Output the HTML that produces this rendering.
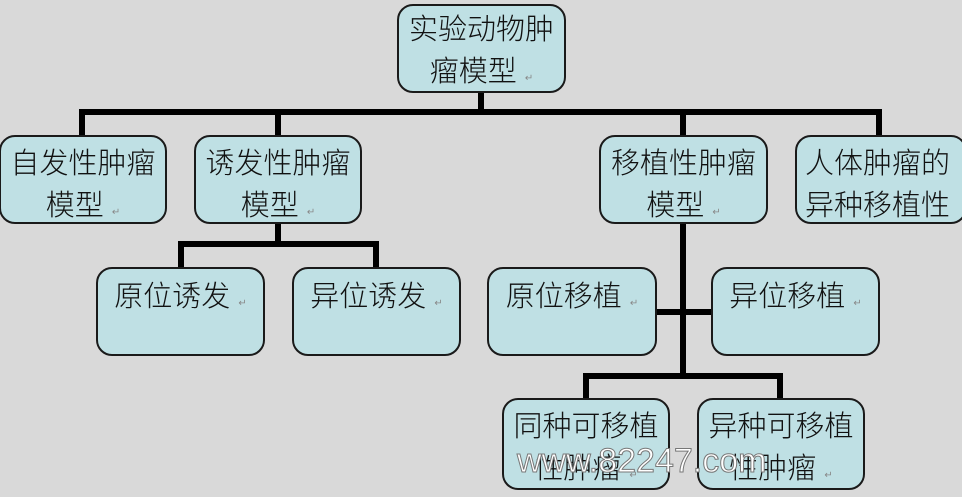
<!DOCTYPE html>
<html><head><meta charset="utf-8"><style>
html,body{margin:0;padding:0;}
body{width:962px;height:487px;background:#d9d9d9;position:relative;overflow:hidden;font-family:"Liberation Sans","Noto Sans CJK SC","WenQuanYi Zen Hei",sans-serif;}
.b{position:absolute;box-sizing:border-box;background:#bfe0e4;border:2px solid #1a1a1a;border-radius:16px;font-size:29px;font-weight:300;line-height:42px;color:#111;text-align:center;padding-top:6px;white-space:nowrap;}
.s{padding-top:1px;line-height:54px;}
.l{position:absolute;background:#000;}
.r{font-size:10px;color:#888;}
.wm{position:absolute;left:517px;top:442px;font-size:34px;color:#fff;-webkit-text-stroke:1px #777;font-family:"Liberation Sans",sans-serif;}
</style></head><body>
<div class="l" style="left:478px;top:90px;width:6px;height:24px"></div>
<div class="l" style="left:79px;top:109px;width:803px;height:6px"></div>
<div class="l" style="left:79px;top:109px;width:6px;height:29px"></div>
<div class="l" style="left:275px;top:109px;width:6px;height:29px"></div>
<div class="l" style="left:680px;top:109px;width:6px;height:29px"></div>
<div class="l" style="left:876px;top:109px;width:6px;height:29px"></div>
<div class="l" style="left:275px;top:221px;width:6px;height:24px"></div>
<div class="l" style="left:178px;top:241px;width:201px;height:6px"></div>
<div class="l" style="left:178px;top:241px;width:6px;height:28px"></div>
<div class="l" style="left:373px;top:241px;width:6px;height:28px"></div>
<div class="l" style="left:680px;top:221px;width:6px;height:158px"></div>
<div class="l" style="left:654px;top:309px;width:59px;height:6px"></div>
<div class="l" style="left:583px;top:373px;width:200px;height:6px"></div>
<div class="l" style="left:583px;top:373px;width:6px;height:27px"></div>
<div class="l" style="left:777px;top:373px;width:6px;height:27px"></div>

<div class="b" style="left:397px;top:4px;width:169px;height:89px;padding-top:3px">实验动物肿<br>瘤模型 <span class="r">↵</span></div>
<div class="b" style="left:-1px;top:135px;width:168px;height:89px">自发性肿瘤<br>模型 <span class="r">↵</span></div>
<div class="b" style="left:194px;top:135px;width:168px;height:89px">诱发性肿瘤<br>模型 <span class="r">↵</span></div>
<div class="b" style="left:599px;top:135px;width:169px;height:89px">移植性肿瘤<br>模型 <span class="r">↵</span></div>
<div class="b" style="left:795px;top:135px;width:172px;height:89px;text-align:left;padding-left:8px">人体肿瘤的<br>异种移植性</div>
<div class="b s" style="left:96px;top:267px;width:169px;height:89px">原位诱发 <span class="r">↵</span></div>
<div class="b s" style="left:292px;top:267px;width:169px;height:89px">异位诱发 <span class="r">↵</span></div>
<div class="b s" style="left:487px;top:267px;width:170px;height:89px">原位移植 <span class="r">↵</span></div>
<div class="b s" style="left:711px;top:267px;width:169px;height:89px">异位移植 <span class="r">↵</span></div>
<div class="b" style="left:502px;top:398px;width:168px;height:92px">同种可移植<br>性肿瘤 <span class="r">↵</span></div>
<div class="b" style="left:697px;top:398px;width:168px;height:92px">异种可移植<br>性肿瘤 <span class="r">↵</span></div>
<div class="wm">www.82247.com</div>
</body></html>
